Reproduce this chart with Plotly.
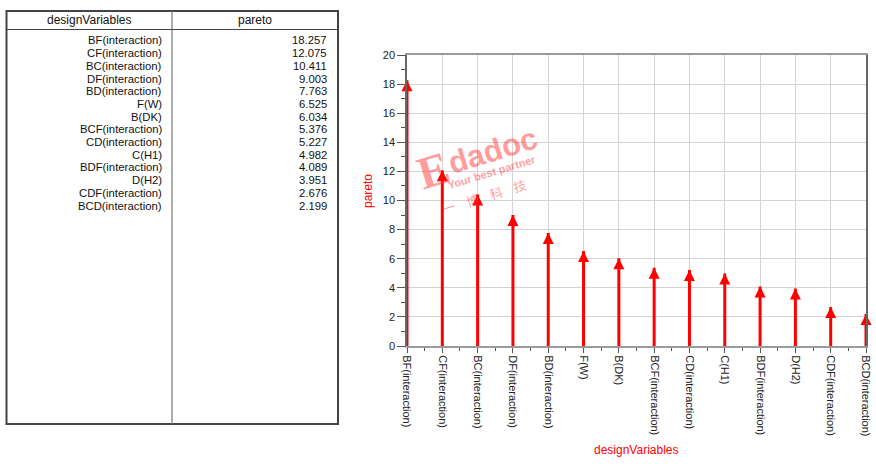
import plotly.graph_objects as go

design_variables = ["BF(interaction)", "CF(interaction)", "BC(interaction)", "DF(interaction)",
                    "BD(interaction)", "F(W)", "B(DK)", "BCF(interaction)", "CD(interaction)",
                    "C(H1)", "BDF(interaction)", "D(H2)", "CDF(interaction)", "BCD(interaction)"]
pareto = [18.257, 12.075, 10.411, 9.003, 7.763, 6.525, 6.034, 5.376, 5.227,
          4.982, 4.089, 3.951, 2.676, 2.199]
pareto_text = ["18.257", "12.075", "10.411", "9.003", "7.763", "6.525", "6.034", "5.376",
               "5.227", "4.982", "4.089", "3.951", "2.676", "2.199"]
y_ticks = list(range(0, 21, 2))

W, H = 876, 464
def px(x):
    return x / W
def py(y):
    return 1 - y / H

FONT = "Liberation Sans, Arial, sans-serif"
RED = "#ff0000"

idx = list(range(len(design_variables)))

# stems
sx, sy = [], []
for i, v in zip(idx, pareto):
    sx += [i, i, None]
    sy += [0, v, None]

fig = go.Figure()
fig.add_trace(go.Scatter(x=sx, y=sy, mode="lines", line=dict(color=RED, width=3),
                         hoverinfo="skip", cliponaxis=False, showlegend=False))
fig.add_trace(go.Scatter(x=idx, y=pareto, mode="markers",
                         marker=dict(symbol="arrow-up", size=11, color=RED,
                                     line=dict(width=0)),
                         cliponaxis=False, showlegend=False,
                         text=design_variables, hovertemplate="%{text}: %{y}<extra></extra>"))

fig.update_xaxes(
    domain=[px(407), px(866)], range=[0, len(idx) - 1],
    tickmode="array", tickvals=idx, ticktext=design_variables, tickangle=90,
    ticks="outside", ticklen=5, tickcolor="#555", tickwidth=1,
    tickfont=dict(family=FONT, size=11, color="#222"),
    showgrid=True, gridcolor="#d4d4d4", gridwidth=1,
    showline=True, linecolor="#9a9a9a", linewidth=2, mirror=True,
    zeroline=False, automargin=False,
    minor=dict(tick0=0, dtick=0.5, ticks="outside", ticklen=3, tickcolor="#555", showgrid=False),
)
fig.update_yaxes(
    domain=[py(346), py(55)], range=[0, 20],
    tickmode="array", tickvals=y_ticks,
    ticks="outside", ticklen=8, tickcolor="#555", tickwidth=1,
    tickfont=dict(family=FONT, size=11, color="#222"),
    showgrid=True, gridcolor="#d4d4d4", gridwidth=1,
    showline=True, linecolor="#666", linewidth=1.5, mirror=True,
    zeroline=False, automargin=False,
    minor=dict(tick0=0, dtick=1, ticks="outside", ticklen=4, tickcolor="#555", showgrid=False),
)

def ann(text, x, y, size=12, color="#111", xanchor="center", angle=0, family=FONT):
    return dict(text=text, x=px(x), y=py(y), xref="paper", yref="paper",
                xanchor=xanchor, yanchor="middle", showarrow=False, textangle=angle,
                font=dict(family=family, size=size, color=color))

annotations = []
# axis titles
annotations.append(ann("pareto", 368, 191, color=RED, angle=-90))
annotations.append(ann("designVariables", 636, 450, color=RED))

# watermark
wm = "rgba(255,60,60,0.5)"
annotations.append(ann("<b>E</b>", 433, 170, size=46, color=wm, angle=-17,
                       family="Liberation Serif, serif"))
annotations.append(ann("<b>dadoc</b>", 493, 150, size=31, color=wm, angle=-17))
annotations.append(ann("<b>Your best partner</b>", 492, 172, size=11, color=wm, angle=-17))
annotations.append(ann("一    博    科    技", 484, 197, size=13, color=wm, angle=-17,
                       family="Noto Sans CJK SC"))

# table header
annotations.append(ann("designVariables", 89, 19.5))
annotations.append(ann("pareto", 255, 19.5))
row0, rowh = 40.5, 12.7
for k, (name, val) in enumerate(zip(design_variables, pareto_text)):
    yy = row0 + k * rowh
    annotations.append(ann(name, 164, yy, size=11.3, xanchor="right"))
    annotations.append(ann(val, 329, yy, size=11.3, xanchor="right"))

shapes = [
    dict(type="rect", xref="paper", yref="paper", x0=px(6.5), x1=px(338), y0=py(424), y1=py(11),
         line=dict(color="#444", width=2)),
    dict(type="line", xref="paper", yref="paper", x0=px(172), x1=px(172), y0=py(424), y1=py(11),
         line=dict(color="#777", width=1.2)),
    dict(type="line", xref="paper", yref="paper", x0=px(6.5), x1=px(338), y0=py(29.5), y1=py(29.5),
         line=dict(color="#444", width=1.2)),
]

fig.update_layout(
    width=W, height=H, margin=dict(l=0, r=0, t=0, b=0),
    paper_bgcolor="white", plot_bgcolor="white",
    annotations=annotations, shapes=shapes, showlegend=False,
    font=dict(family=FONT),
)
fig.write_html("out.html", config={"displayModeBar": False},
               post_script="document.body.style.margin='0';document.body.style.overflow='hidden';")
